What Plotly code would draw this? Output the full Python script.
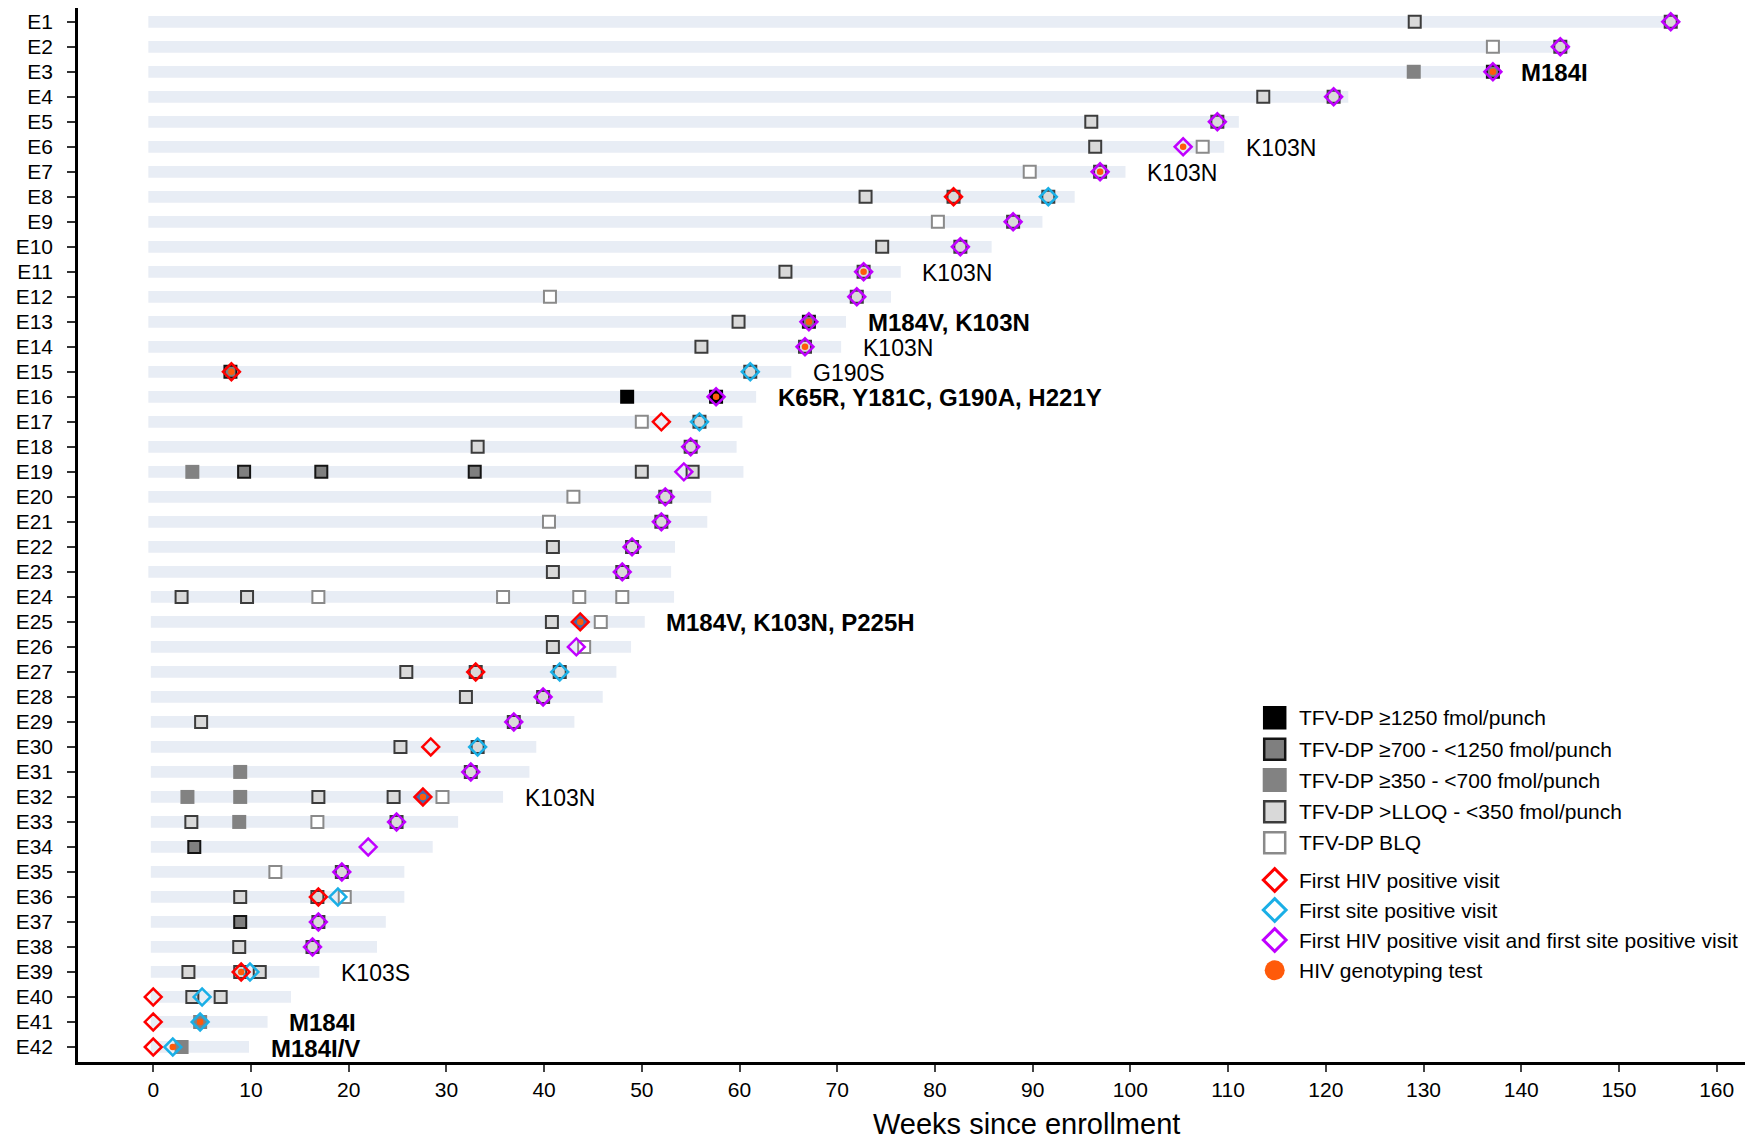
import plotly.graph_objects as go

# ---------------------------------------------------------------- data
participants = [f"E{i}" for i in range(1, 43)]

# follow-up window per participant (weeks since enrollment)
followup_start = [-0.5] * 23 + [-0.25] * 19
followup_end = [156.0, 145.0, 137.8, 122.3, 111.1, 109.6, 99.5, 94.3, 91.0, 85.8,
                76.5, 75.5, 70.9, 70.4, 65.3, 61.7, 60.3, 59.7, 60.4, 57.1,
                56.7, 53.4, 53.0, 53.3, 50.3, 48.9, 47.4, 46.0, 43.1, 39.2,
                38.5, 35.8, 31.2, 28.6, 25.7, 25.7, 23.8, 22.9, 17.0, 14.1,
                11.7, 9.8]

# DBS visits: participant, week, TFV-DP level
# level 1: >=1250, 2: 700-<1250, 3: 350-<700, 4: >LLOQ-<350, 5: BLQ
visit_pid = ["E1", "E1", "E2", "E2", "E3", "E3", "E4", "E4", "E5", "E5",
             "E6", "E6", "E7", "E7", "E8", "E8", "E8", "E9", "E9", "E10", "E10",
             "E11", "E11", "E12", "E12", "E13", "E13", "E14", "E14", "E15", "E15",
             "E16", "E16", "E17", "E17", "E18", "E18",
             "E19", "E19", "E19", "E19", "E19", "E19",
             "E20", "E20", "E21", "E21", "E22", "E22", "E23", "E23",
             "E24", "E24", "E24", "E24", "E24", "E24",
             "E25", "E25", "E26", "E26", "E27", "E27", "E27", "E28", "E28",
             "E29", "E29", "E30", "E30", "E31", "E31",
             "E32", "E32", "E32", "E32", "E32",
             "E33", "E33", "E33", "E33", "E34", "E35", "E35",
             "E36", "E36", "E36", "E37", "E37", "E38", "E38",
             "E39", "E39", "E39", "E40", "E40", "E41", "E42"]
visit_week = [129.1, 155.3, 137.1, 144.0, 129.0, 137.1, 113.6, 120.8, 96.0, 108.9,
              96.4, 107.4, 89.7, 96.9, 72.9, 81.9, 91.6, 80.3, 88.0, 74.6, 82.6,
              64.7, 72.7, 40.6, 72.0, 59.9, 67.1, 56.1, 66.7, 7.9, 61.1,
              48.5, 57.6, 50.0, 55.9, 33.2, 55.0,
              4.0, 9.3, 17.2, 32.9, 50.0, 55.2,
              43.0, 52.4, 40.5, 52.0, 40.9, 49.0, 40.9, 48.0,
              2.9, 9.6, 16.9, 35.8, 43.6, 48.0,
              40.8, 45.8, 40.9, 44.1, 25.9, 33.0, 41.6, 32.0, 39.9,
              4.9, 36.9, 25.3, 33.2, 8.9, 32.5,
              3.5, 8.9, 16.9, 24.6, 29.6,
              3.9, 8.8, 16.8, 24.9, 4.2, 12.5, 19.3,
              8.9, 16.8, 19.6, 8.9, 16.9, 8.8, 16.3,
              3.6, 8.9, 10.9, 4.0, 6.9, 4.8, 2.9]
visit_level = [4, 4, 5, 4, 3, 2, 4, 4, 4, 4,
               4, 5, 5, 4, 4, 4, 4, 5, 4, 4, 4,
               4, 4, 5, 4, 4, 2, 4, 4, 2, 4,
               1, 1, 5, 4, 4, 4,
               3, 2, 2, 2, 4, 4,
               5, 4, 5, 4, 4, 4, 4, 4,
               4, 4, 5, 5, 5, 5,
               4, 5, 4, 5, 4, 4, 4, 4, 4,
               4, 4, 4, 4, 3, 4,
               3, 3, 4, 4, 5,
               4, 3, 5, 4, 2, 5, 4,
               4, 4, 5, 2, 4, 4, 4,
               4, 4, 4, 4, 4, 3, 3]

level_names = ["TFV-DP \u22651250 fmol/punch",
               "TFV-DP \u2265700 - <1250 fmol/punch",
               "TFV-DP \u2265350 - <700 fmol/punch",
               "TFV-DP >LLOQ - <350 fmol/punch",
               "TFV-DP BLQ"]

# first HIV positive visit only
hiv_pos_pid = ["E8", "E15", "E17", "E25", "E27", "E30", "E32", "E36", "E39", "E40", "E41", "E42"]
hiv_pos_week = [81.9, 8.0, 52.0, 43.7, 33.0, 28.4, 27.6, 16.9, 9.0, 0.0, 0.0, 0.0]
# visits where the HIV positive marker is shaded
hiv_pos_shaded_pid = ["E25", "E32"]
hiv_pos_shaded_week = [43.7, 27.6]

# first site positive visit only
site_pos_pid = ["E8", "E15", "E17", "E27", "E30", "E36", "E39", "E40", "E41", "E42"]
site_pos_week = [91.6, 61.1, 55.9, 41.6, 33.2, 18.9, 9.9, 5.0, 4.8, 2.0]

# first HIV positive visit that is also first site positive visit
both_pos_pid = ["E1", "E2", "E3", "E4", "E5", "E6", "E7", "E9", "E10", "E11",
                "E12", "E13", "E14", "E16", "E18", "E19", "E20", "E21", "E22", "E23",
                "E26", "E28", "E29", "E31", "E33", "E34", "E35", "E37", "E38"]
both_pos_week = [155.3, 144.0, 137.1, 120.8, 108.9, 105.4, 96.9, 88.0, 82.6, 72.7,
                 72.0, 67.1, 66.7, 57.6, 55.0, 54.3, 52.4, 52.0, 49.0, 48.0,
                 43.3, 39.9, 36.9, 32.5, 24.9, 22.0, 19.3, 16.9, 16.3]

# HIV genotyping tests
geno_pid = ["E3", "E6", "E7", "E11", "E13", "E14", "E15", "E16", "E25", "E32", "E39", "E41", "E42"]
geno_week = [137.1, 105.4, 96.9, 72.7, 67.1, 66.7, 8.0, 57.6, 43.7, 27.6, 9.0, 4.8, 2.0]

# resistance mutations found (bold = major)
mut_pid = ["E3", "E6", "E7", "E11", "E13", "E14", "E15", "E16", "E25", "E32", "E39", "E41", "E42"]
mut_text = ["M184I", "K103N", "K103N", "K103N", "M184V, K103N", "K103N", "G190S",
            "K65R, Y181C, G190A, H221Y", "M184V, K103N, P225H", "K103N", "K103S",
            "M184I", "M184I/V"]
mut_bold = [True, False, False, False, True, False, False, True, True, False, False, True, True]

x_ticks = list(range(0, 161, 10))

# ---------------------------------------------------------------- styles
FONT = "Liberation Sans, Arial, Helvetica, sans-serif"
BAR_COLOR = "#E8EDF5"
LEVEL_FILL = {1: "#000000", 2: "#7F7F7F", 3: "#828282", 4: "#D9D9D9", 5: "#FFFFFF"}
LEVEL_LINE = {1: "#000000", 2: "#141414", 3: "#828282", 4: "#3C3C3C", 5: "#8A8A8A"}
RED, CYAN, PURPLE, ORANGE = "#FF0000", "#1AAFE6", "#C000FF", "#FF5A0A"
SHADE = "#3F6DB2"

row_of = {p: i + 1 for i, p in enumerate(participants)}
rows = lambda pids: [row_of[p] for p in pids]

fig = go.Figure()

# follow-up bars
fig.add_trace(go.Bar(
    y=list(range(1, 43)),
    x=[e - s for s, e in zip(followup_start, followup_end)],
    base=followup_start,
    orientation="h", width=0.47,
    marker=dict(color=BAR_COLOR, line=dict(width=0)),
    hoverinfo="skip",
))

# TFV-DP squares
for lvl in [1, 2, 3, 4, 5]:
    xs = [w for w, l in zip(visit_week, visit_level) if l == lvl]
    ys = [row_of[p] for p, l in zip(visit_pid, visit_level) if l == lvl]
    no_border = lvl == 3
    fig.add_trace(go.Scatter(
        x=xs, y=ys, mode="markers", name=level_names[lvl - 1],
        marker=dict(symbol="square", size=14 if no_border else 12,
                    color=LEVEL_FILL[lvl],
                    line=dict(color=LEVEL_LINE[lvl], width=0 if no_border else 2)),
    ))


def diamonds(xs, ys, color, fill="rgba(0,0,0,0)", size=13, width=2.5):
    return go.Scatter(
        x=xs, y=ys, mode="markers",
        marker=dict(symbol="diamond", size=size, color=fill,
                    line=dict(color=color, width=width)),
    )


fig.add_trace(diamonds(both_pos_week, rows(both_pos_pid), PURPLE))
fig.add_trace(diamonds(site_pos_week, rows(site_pos_pid), CYAN))
fig.add_trace(diamonds(hiv_pos_shaded_week, rows(hiv_pos_shaded_pid), SHADE, fill=SHADE, size=11.5, width=0))
fig.add_trace(diamonds(hiv_pos_week, rows(hiv_pos_pid), RED))

# genotyping dots
fig.add_trace(go.Scatter(
    x=geno_week, y=rows(geno_pid), mode="markers",
    marker=dict(symbol="circle", size=6.5, color=ORANGE, line=dict(width=0)),
))

# mutation labels just past the end of each follow-up bar
for p, t, b in zip(mut_pid, mut_text, mut_bold):
    fig.add_annotation(
        x=followup_end[row_of[p] - 1] + 2.0, y=row_of[p], xref="x", yref="y",
        text=f"<b>{t}</b>" if b else t, showarrow=False,
        xanchor="left", yanchor="middle", yshift=-1,
        font=dict(family=FONT, size=24 if b else 23, color="#000000"),
    )

# ---------------------------------------------------------------- legend (pixel overlay)
leg_sq_y = [717.7, 749.2, 780.0, 811.7, 842.7]
leg_dm_y = [880.0, 910.0, 940.0]
leg_dot_y = 970.3
leg_sym_x = 1274.7
leg_txt_x = 1297.0

for lvl, yy in zip([1, 2, 3, 4, 5], leg_sq_y):
    no_border = lvl == 3
    fig.add_trace(go.Scatter(
        x=[leg_sym_x], y=[yy], xaxis="x2", yaxis="y2", mode="markers",
        marker=dict(symbol="square", size=24 if no_border else 21,
                    color=LEVEL_FILL[lvl],
                    line=dict(color=LEVEL_LINE[lvl], width=0 if no_border else 2.5)),
    ))
    fig.add_annotation(x=leg_txt_x, y=yy, xref="x2", yref="y2", text=level_names[lvl - 1],
                       showarrow=False, xanchor="left", yanchor="middle",
                       font=dict(family=FONT, size=21, color="#000000"))

diamond_names = ["First HIV positive visit", "First site positive visit",
                 "First HIV positive visit and first site positive visit"]
for col, yy, name in zip([RED, CYAN, PURPLE], leg_dm_y, diamond_names):
    fig.add_trace(go.Scatter(
        x=[leg_sym_x], y=[yy], xaxis="x2", yaxis="y2", mode="markers",
        marker=dict(symbol="diamond", size=17.5, color="rgba(0,0,0,0)",
                    line=dict(color=col, width=3)),
    ))
    fig.add_annotation(x=leg_txt_x, y=yy, xref="x2", yref="y2", text=name,
                       showarrow=False, xanchor="left", yanchor="middle",
                       font=dict(family=FONT, size=21, color="#000000"))

fig.add_trace(go.Scatter(
    x=[leg_sym_x], y=[leg_dot_y], xaxis="x2", yaxis="y2", mode="markers",
    marker=dict(symbol="circle", size=20, color=ORANGE, line=dict(width=0)),
))
fig.add_annotation(x=leg_txt_x, y=leg_dot_y, xref="x2", yref="y2", text="HIV genotyping test",
                   showarrow=False, xanchor="left", yanchor="middle",
                   font=dict(family=FONT, size=21, color="#000000"))

# x-axis title
fig.add_annotation(x=0.5687, y=-0.0588, xref="paper", yref="paper",
                   text="Weeks since enrollment", showarrow=False,
                   xanchor="center", yanchor="middle",
                   font=dict(family=FONT, size=29, color="#000000"))

# ---------------------------------------------------------------- layout
fig.update_layout(
    width=1752, height=1142,
    margin=dict(l=78, r=7, t=8, b=80),
    paper_bgcolor="white", plot_bgcolor="white",
    showlegend=False, barmode="overlay",
    font=dict(family=FONT, color="#000000"),
    xaxis=dict(
        range=[-7.7, 162.9], tickvals=x_ticks, ticktext=[str(t) for t in x_ticks],
        showgrid=False, zeroline=False,
        showline=True, linecolor="#000000", linewidth=2.5,
        ticks="outside", ticklen=7, tickwidth=1.5, tickcolor="#444444",
        tickfont=dict(family=FONT, size=21, color="#000000"),
        ticklabelstandoff=0,
    ),
    yaxis=dict(
        range=[42.6, 0.45], tickvals=list(range(1, 43)), ticktext=participants,
        showgrid=False, zeroline=False,
        showline=True, linecolor="#000000", linewidth=2.5,
        ticks="outside", ticklen=8, tickwidth=2, tickcolor="#333333",
        tickfont=dict(family=FONT, size=21, color="#000000"),
        ticklabelstandoff=10,
    ),
    xaxis2=dict(range=[78, 1745], overlaying="x", anchor="y2", visible=False),
    yaxis2=dict(range=[1062, 8], overlaying="y", anchor="x2", visible=False),
)

fig.write_html("out.html")
